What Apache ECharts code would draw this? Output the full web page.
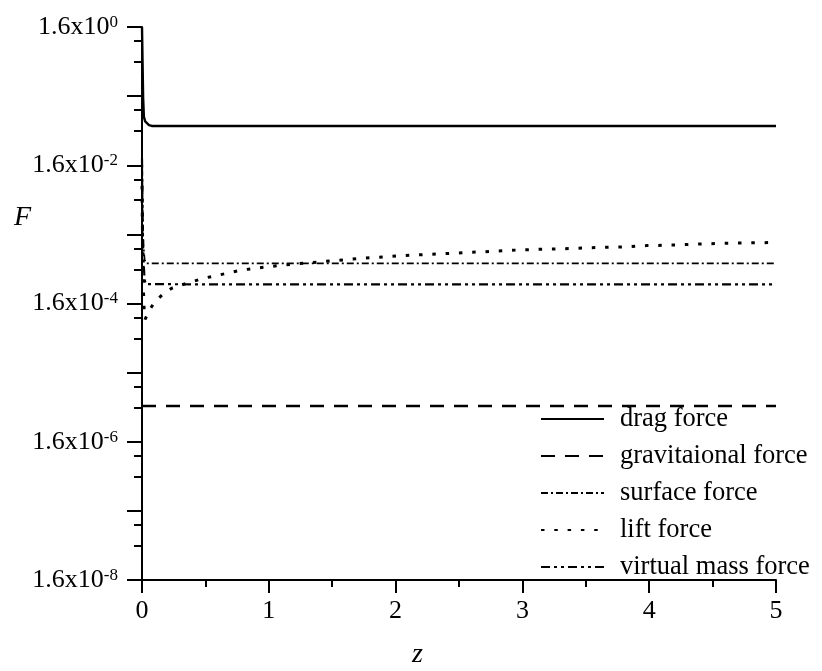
<!DOCTYPE html>
<html>
<head>
<meta charset="utf-8">
<script src="https://cdn.jsdelivr.net/npm/echarts@6/dist/echarts.min.js"></script>
<style>
  html, body { margin: 0; padding: 0; background: #fff; }
  #c { width: 822px; height: 671px; }
</style>
</head>
<body>
<div id="c"></div>
<script>
// Forces along the channel, F versus z (log scale)
const seriesNames = ['drag force', 'gravitaional force', 'surface force', 'lift force', 'virtual mass force'];

const zDrag = [0, 0.004, 0.009, 0.015, 0.025, 0.037, 0.055, 0.077, 0.2, 1, 2, 3, 4, 5];
const dragForce = [1.6, 0.55, 0.15, 0.08, 0.069, 0.065, 0.061, 0.0592, 0.0592, 0.0592, 0.0592, 0.0592, 0.0592, 0.0592];

const zGrav = [0, 1, 2, 3, 4, 5];
const gravForce = [5.26e-6, 5.26e-6, 5.26e-6, 5.26e-6, 5.26e-6, 5.26e-6];

const zSurf = [0, 0.005, 0.01, 0.02, 0.03, 0.5, 1, 2, 3, 4, 5];
const surfForce = [0.027, 0.004, 0.0012, 7.0e-4, 6.1e-4, 6.07e-4, 6.07e-4, 6.07e-4, 6.07e-4, 6.07e-4, 6.07e-4];

const zLift = [0, 0.004, 0.01, 0.018, 0.024, 0.063, 0.102, 0.163, 0.234, 0.313, 0.392, 0.483, 0.583, 0.68, 0.786,
  0.89, 0.995, 1.206, 1.416, 1.639, 1.849, 2.059, 2.269, 2.492, 2.703, 2.913, 3.121, 3.333, 3.544, 3.767,
  3.977, 4.187, 4.397, 4.607, 4.817, 5];
const liftForce = [0.008, 0.0015, 3.0e-4, 1.1e-4, 9.45e-5, 1.32e-4, 1.70e-4, 2.17e-4, 2.66e-4, 2.97e-4, 3.30e-4,
  3.70e-4, 4.04e-4, 4.42e-4, 4.88e-4, 5.16e-4, 5.45e-4, 5.96e-4, 6.44e-4, 6.97e-4, 7.45e-4, 7.87e-4, 8.24e-4,
  8.61e-4, 8.99e-4, 9.42e-4, 9.73e-4, 9.94e-4, 1.027e-3, 1.05e-3, 1.10e-3, 1.12e-3, 1.16e-3, 1.19e-3, 1.21e-3, 1.22e-3];

const zVirt = [0, 0.005, 0.01, 0.02, 0.03, 0.5, 1, 2, 3, 4, 5];
const virtForce = [0.02, 0.003, 8.0e-4, 3.6e-4, 3.05e-4, 3.03e-4, 3.03e-4, 3.03e-4, 3.03e-4, 3.03e-4, 3.03e-4];

// y-axis ticks and labels
const yLabelValues = [1.6e-8, 1.6e-6, 1.6e-4, 1.6e-2, 1.6];
const yMajorTicks = [1.6e-8, 1.6e-7, 1.6e-6, 1.6e-5, 1.6e-4, 1.6e-3, 1.6e-2, 1.6e-1, 1.6];
const yMinorTicks = [1e-8, 5e-8, 1e-7, 5e-7, 1e-6, 5e-6, 1e-5, 5e-5, 1e-4, 5e-4, 1e-3, 5e-3, 1e-2, 5e-2, 1e-1, 5e-1, 1];

const pair = (xs, ys) => xs.map((x, i) => [x, ys[i]]);
const FONT = 'Liberation Serif';
const BLACK = '#000';

const chart = echarts.init(document.getElementById('c'), null, { renderer: 'canvas' });

chart.setOption({
  animation: false,
  backgroundColor: '#fff',
  color: [BLACK, BLACK, BLACK, BLACK, BLACK],
  grid: { left: 142, top: 27, width: 634, height: 553, containLabel: false, outerBoundsMode: 'none' },
  xAxis: {
    type: 'value', min: 0, max: 5, interval: 1,
    axisLine: { show: true, onZero: false, lineStyle: { color: BLACK, width: 2 } },
    axisTick: { show: true, inside: false, length: 13, lineStyle: { color: BLACK, width: 2 } },
    minorTick: { show: true, splitNumber: 2, length: 7, lineStyle: { color: BLACK, width: 2 } },
    splitLine: { show: false },
    axisLabel: { color: BLACK, fontFamily: FONT, fontSize: 26, margin: 18 }
  },
  yAxis: [
    {
      type: 'log', logBase: 10, min: 1.6e-8, max: 1.6, position: 'left',
      axisLine: { show: true, lineStyle: { color: BLACK, width: 2 } },
      axisTick: { show: true, inside: false, length: 15, customValues: yMajorTicks, lineStyle: { color: BLACK, width: 2 } },
      splitLine: { show: false },
      axisLabel: {
        customValues: yLabelValues,
        margin: 24,
        color: BLACK,
        formatter: function (v) {
          const e = Math.round(Math.log10(v / 1.6));
          return '{b|1.6x10}{s|' + e + '}';
        },
        rich: {
          b: { fontFamily: FONT, fontSize: 26, color: BLACK },
          s: { fontFamily: FONT, fontSize: 17, color: BLACK, verticalAlign: 'top' }
        }
      }
    },
    {
      type: 'log', logBase: 10, min: 1.6e-8, max: 1.6, position: 'left', offset: 0,
      axisLine: { show: false },
      axisTick: { show: true, inside: false, length: 8, customValues: yMinorTicks, lineStyle: { color: BLACK, width: 2 } },
      axisLabel: { show: false },
      splitLine: { show: false }
    }
  ],
  legend: {
    orient: 'vertical', left: 540, top: 405, padding: 0,
    itemWidth: 63, itemHeight: 14, itemGap: 9,
    itemStyle: { color: 'rgba(0,0,0,0)', borderColor: 'rgba(0,0,0,0)', borderWidth: 0, opacity: 0 },
    textStyle: { fontFamily: FONT, fontSize: 26.5, lineHeight: 28, color: BLACK, padding: [0, 0, 0, 11] },
    data: seriesNames
  },
  series: [
    { name: seriesNames[0], type: 'line', symbol: 'none', data: pair(zDrag, dragForce),
      itemStyle: { color: BLACK }, lineStyle: { color: BLACK, width: 2.4, type: 'solid' } },
    { name: seriesNames[1], type: 'line', symbol: 'none', data: pair(zGrav, gravForce),
      itemStyle: { color: BLACK }, lineStyle: { color: BLACK, width: 2.5, type: [14, 10] } },
    { name: seriesNames[2], type: 'line', symbol: 'none', data: pair(zSurf, surfForce),
      itemStyle: { color: BLACK }, lineStyle: { color: BLACK, width: 1.8, type: [7, 3, 2, 3] } },
    { name: seriesNames[3], type: 'line', symbol: 'none', data: pair(zLift, liftForce),
      itemStyle: { color: BLACK }, lineStyle: { color: BLACK, width: 3, type: [3.5, 9.8] } },
    { name: seriesNames[4], type: 'line', symbol: 'none', data: pair(zVirt, virtForce),
      itemStyle: { color: BLACK }, lineStyle: { color: BLACK, width: 2.2, type: [9, 4, 3, 4, 3, 4] } }
  ],
  graphic: [
    { type: 'text', left: 14, top: 204, style: { text: 'F', font: 'italic 28px "Liberation Serif"', fill: BLACK } },
    { type: 'text', left: 412, top: 641, style: { text: 'z', font: 'italic 28px "Liberation Serif"', fill: BLACK } }
  ]
});
</script>
</body>
</html>
